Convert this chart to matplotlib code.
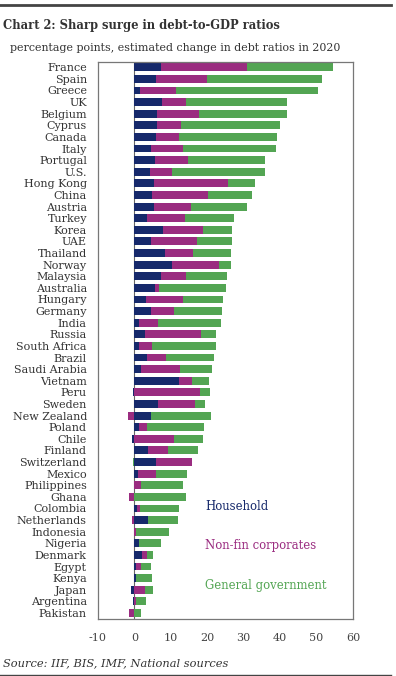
import numpy as np
import matplotlib.pyplot as plt

countries = [
    "France", "Spain", "Greece", "UK", "Belgium", "Cyprus", "Canada", "Italy",
    "Portugal", "U.S.", "Hong Kong", "China", "Austria", "Turkey", "Korea", "UAE",
    "Thailand", "Norway", "Malaysia", "Australia", "Hungary", "Germany", "India",
    "Russia", "South Africa", "Brazil", "Saudi Arabia", "Vietnam", "Peru", "Sweden",
    "New Zealand", "Poland", "Chile", "Finland", "Switzerland", "Mexico",
    "Philippines", "Ghana", "Colombia", "Netherlands", "Indonesia", "Nigeria",
    "Denmark", "Egypt", "Kenya", "Japan", "Argentina", "Pakistan",
]
household = [
    7.2, 5.8, 1.5, 7.6, 6.2, 6.2, 5.8, 4.6, 5.6, 4.3, 5.3, 4.8, 5.3, 3.4, 7.8, 4.6,
    8.3, 10.4, 7.2, 5.6, 3.1, 4.6, 1.2, 2.9, 1.2, 3.4, 1.7, 12.2, -0.4, 6.6,
    4.6, 1.2, -0.8, 3.8, 5.9, 0.9, 0.0, 0.0, 0.6, 3.7, 0.0, 1.2,
    2.0, 0.5, 0.4, -0.9, -0.4, 0.0,
]
nonfin = [
    23.8, 14.1, 10.0, 6.6, 11.6, 6.5, 6.3, 8.6, 9.2, 6.1, 20.4, 15.5, 10.1, 10.6, 11.1, 12.5,
    7.8, 12.9, 7.0, 1.2, 10.2, 6.2, 5.2, 15.4, 3.5, 5.2, 10.7, 3.7, 18.1, 10.1,
    -1.7, 2.3, 10.8, 5.5, 9.9, 5.0, 1.9, -1.4, 0.9, -0.6, 0.4, 0.0,
    1.5, 1.2, 0.0, 2.9, 0.5, -1.5,
]
government = [
    23.4, 31.7, 38.8, 27.8, 24.0, 27.3, 27.1, 25.7, 21.0, 25.4, 7.3, 11.9, 15.5, 13.3, 7.8, 9.6,
    10.3, 3.1, 11.1, 18.4, 11.0, 13.2, 17.4, 4.1, 17.7, 13.2, 9.0, 4.5, 2.6, 2.8,
    16.5, 15.7, 8.0, 8.1, -0.5, 8.6, 11.5, 14.1, 10.7, 8.2, 9.1, 6.0,
    1.5, 2.9, 4.5, 2.1, 2.6, 1.8,
]
series_names = ["Household", "Non-fin corporates", "General government"]
colors = ["#16296b", "#9a2c80", "#53a553"]
x_ticks = [-10, 0, 10, 20, 30, 40, 50, 60]

plt.rcParams["font.family"] = ["DejaVu Serif"]

fig = plt.figure(figsize=(3.96, 6.76), dpi=100)
ax = fig.add_axes([98 / 396, 1 - 619 / 676, 255 / 396, 557 / 676])

# stack positives rightwards from 0, negatives leftwards from 0
y = np.arange(len(countries))
pos_left = np.zeros(len(countries))
neg_left = np.zeros(len(countries))
for vals, color in zip([household, nonfin, government], colors):
    v = np.array(vals)
    left = np.where(v >= 0, pos_left, neg_left)
    ax.barh(y, v, left=left, height=0.68, color=color, linewidth=0)
    pos_left = pos_left + np.clip(v, 0, None)
    neg_left = neg_left + np.clip(v, None, 0)

ax.axvline(0, color="#666666", linewidth=0.8, zorder=0.5)

ax.set_xlim(-10, 60)
ax.set_ylim(len(countries) - 0.48, -0.45)
ax.set_yticks(y)
ax.set_yticklabels(countries, fontsize=8, color="#333333")
ax.set_xticks(x_ticks)
ax.set_xticklabels([str(t) for t in x_ticks], fontsize=8, color="#444444")
ax.tick_params(axis="y", length=0, pad=8)
ax.tick_params(axis="x", length=0, pad=10)
for sp in ax.spines.values():
    sp.set_color("#777777")
    sp.set_linewidth(0.9)

legend_y = [507, 546, 586]
for name, color, ly in zip(series_names, colors, legend_y):
    fig.text(205 / 396, 1 - ly / 676, name, color=color, fontsize=8.4, va="center", ha="left")

fig.text(3 / 396, 1 - 25 / 676, "Chart 2: Sharp surge in debt-to-GDP ratios",
         fontsize=8.3, fontweight="bold", color="#333333", va="center", ha="left")
fig.text(10 / 396, 1 - 48 / 676, "percentage points, estimated change in debt ratios in 2020",
         fontsize=7.9, color="#333333", va="center", ha="left")
fig.text(3 / 396, 1 - 663 / 676, "Source: IIF, BIS, IMF, National sources",
         fontsize=8.2, style="italic", color="#333333", va="center", ha="left")

fig.add_artist(plt.Line2D([0, 391 / 396], [1 - 5 / 676, 1 - 5 / 676], color="#444444", linewidth=2))
fig.add_artist(plt.Line2D([0, 391 / 396], [1 - 675 / 676, 1 - 675 / 676], color="#444444", linewidth=1))

fig.savefig("out.png", dpi=100)
